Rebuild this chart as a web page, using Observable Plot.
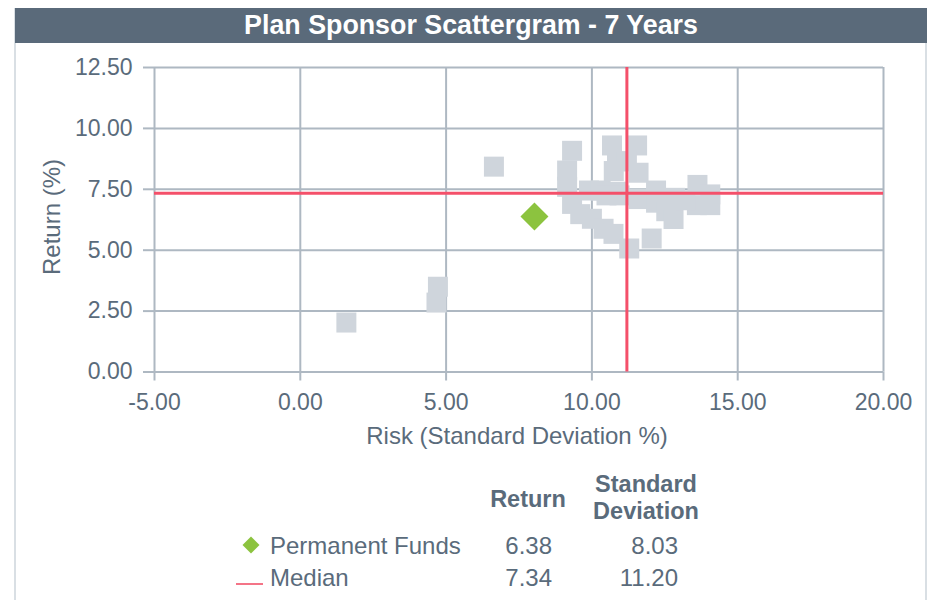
<!DOCTYPE html>
<html>
<head>
<meta charset="utf-8">
<script src="https://cdn.jsdelivr.net/npm/d3@7"></script>
<script src="https://cdn.jsdelivr.net/npm/@observablehq/plot@0.6"></script>
<style>
  body { margin: 0; background: #fff; font-family: "Liberation Sans", Arial, sans-serif; color: #5a6b7b; }
  #wrap { position: relative; width: 932px; height: 600px; overflow: hidden; background: #fff; }
  .border { position: absolute; top: 8px; bottom: 0; width: 2px; background: #d9dfe4; }
  #header { position: absolute; left: 15px; width: 912px; top: 8px; height: 35px; background: #5a6a7a; color: #fff;
            font-weight: bold; font-size: 26.8px; text-align: center; line-height: 35px; z-index: 3; }
  #chart { position: absolute; left: 0; top: 0; z-index: 1; }
  .t { position: absolute; white-space: nowrap; font-size: 24px; line-height: 26px; z-index: 2; color: #5a6b7b; }
  .b { font-weight: bold; font-size: 23.5px; }
</style>
</head>
<body>
<div id="wrap">
  <div class="border" style="left:14px"></div>
  <div class="border" style="left:925px"></div>
  <div id="header"></div>
  <div id="chart"></div>
</div>
<script>
// ---- data ----
const chartTitle = "Plan Sponsor Scattergram - 7 Years";
const xTitle = "Risk (Standard Deviation %)";
const yTitle = "Return (%)";
const riskTicks = [-5, 0, 5, 10, 15, 20];
const returnTicks = [0, 2.5, 5, 7.5, 10, 12.5];

// peer universe (risk, return)
const peerRisk = [1.58, 4.67, 4.72, 6.64,
  9.32, 9.15, 9.15, 9.32, 9.60, 10.00, 10.40, 10.74, 11.28, 12.05,
  10.69, 11.55, 10.86, 11.20, 10.75, 11.60,
  9.90, 10.30, 10.90, 12.20,
  10.50, 10.95, 11.60, 12.20, 12.55, 12.80,
  13.62, 14.06, 13.60, 14.06, 12.85, 13.20];
const peerReturn = [2.03, 2.85, 3.50, 8.43,
  9.08, 8.27, 7.60, 6.90, 6.48, 6.29, 5.88, 5.67, 5.07, 5.48,
  9.30, 9.30, 8.65, 8.65, 8.25, 8.18,
  7.45, 7.45, 7.40, 7.45,
  7.25, 7.25, 7.10, 6.95, 6.60, 6.28,
  7.68, 7.29, 6.85, 6.85, 7.15, 7.05];

const legendNames = ["Permanent Funds", "Median"];
const legendReturn = [6.38, 7.34];
const legendStd = [8.03, 11.20];
const fund = { name: legendNames[0], risk: legendStd[0], ret: legendReturn[0] };
const median = { risk: legendStd[1], ret: legendReturn[1] };

// ---- colors ----
const textColor = "#5a6b7b";
const gridColor = "#aeb8c2";
const peerColor = "#cfd5dc";
const medianColor = "#f4506a";
const fundColor = "#8cc33f";

document.getElementById("header").textContent = chartTitle;

const peers = peerRisk.map((x, i) => ({ x, y: peerReturn[i] }));
const fmt = d => (+d).toFixed(2);

const chart = Plot.plot({
  width: 932,
  height: 460,
  marginLeft: 154,
  marginRight: 49,
  marginTop: 67,
  marginBottom: 88.5,
  style: { background: "transparent", fontFamily: "Liberation Sans, Arial, sans-serif", overflow: "visible" },
  x: { domain: [-5, 20] },
  y: { domain: [0, 12.5] },
  marks: [
    Plot.gridX(riskTicks, { stroke: gridColor, strokeOpacity: 1, strokeWidth: 2 }),
    Plot.gridY(returnTicks, { stroke: gridColor, strokeOpacity: 1, strokeWidth: 2 }),
    Plot.axisY(returnTicks, { tickSize: 11, tickPadding: 11, tickFormat: fmt, fontSize: 23, fill: textColor, stroke: gridColor, strokeWidth: 2, label: null }),
    Plot.axisX(riskTicks, { tickSize: 9, tickPadding: 13, tickFormat: fmt, fontSize: 23, fill: textColor, stroke: gridColor, strokeWidth: 2, label: null }),
    Plot.dot(peers, { x: "x", y: "y", symbol: "square", r: 11.28, fill: peerColor }),
    Plot.ruleY([median.ret], { stroke: medianColor, strokeWidth: 3 }),
    Plot.ruleX([median.risk], { stroke: medianColor, strokeWidth: 3 }),
    Plot.dot([fund], { x: "risk", y: "ret", symbol: "diamond2", r: 12.6, fill: fundColor })
  ]
});
document.getElementById("chart").appendChild(chart);

// ---- html text: axis titles and legend table ----
const wrap = document.getElementById("wrap");
function addText(txt, css, cls = "t") {
  const d = document.createElement("div");
  d.className = cls;
  d.textContent = txt;
  Object.assign(d.style, css);
  wrap.appendChild(d);
  return d;
}
addText(xTitle, { left: "217px", width: "600px", textAlign: "center", top: "423px" });
addText(yTitle, { left: "52px", top: "217px", transform: "translate(-50%,-50%) rotate(-90deg)" });

addText("Return", { left: "428px", width: "200px", textAlign: "center", top: "486px" }, "t b");
addText("Standard", { left: "546px", width: "200px", textAlign: "center", top: "471px" }, "t b");
addText("Deviation", { left: "546px", width: "200px", textAlign: "center", top: "498px" }, "t b");

const rowCenters = [546, 578];
legendNames.forEach((name, i) => {
  const top = rowCenters[i] - 13;
  addText(name, { left: "270px", top: top + "px" });
  addText(fmt(legendReturn[i]), { left: "452px", width: "100px", textAlign: "right", top: top + "px" });
  addText(fmt(legendStd[i]), { left: "578px", width: "100px", textAlign: "right", top: top + "px" });
});
// legend symbols
const dia = document.createElement("div");
Object.assign(dia.style, { position: "absolute", left: (251 - 6) + "px", top: (545 - 6) + "px", width: "12px", height: "12px",
  background: fundColor, transform: "rotate(45deg)", zIndex: 2 });
wrap.appendChild(dia);
const ln = document.createElement("div");
Object.assign(ln.style, { position: "absolute", left: "236px", top: "583px", width: "27px", height: "2px",
  background: "#f47487", zIndex: 2 });
wrap.appendChild(ln);
</script>
</body>
</html>
